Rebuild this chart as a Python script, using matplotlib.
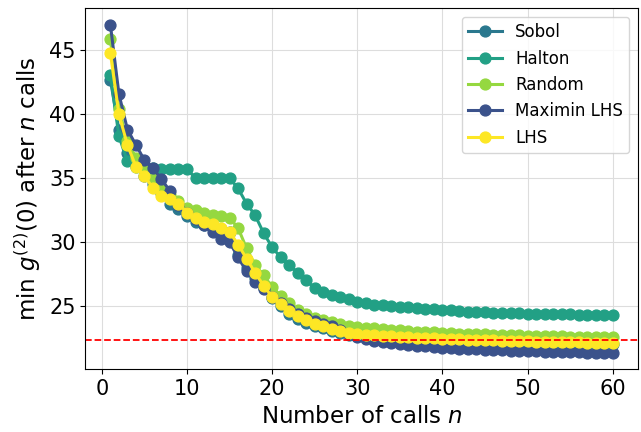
import matplotlib
matplotlib.use("Agg")
import matplotlib.pyplot as plt
import numpy as np

calls = np.arange(1, 61)

sobol = [42.7, 38.8, 37.0, 36.0, 35.2, 34.5, 33.8, 33.0, 32.6, 32.0,
         31.6, 31.3, 31.2, 31.0, 30.8, 29.0, 28.0, 27.2, 26.4, 25.6,
         25.0, 24.4, 24.0, 23.7, 23.45, 23.25, 23.05, 22.9, 22.75, 22.65,
         22.6, 22.55, 22.5, 22.47, 22.44, 22.41, 22.38, 22.35, 22.33, 22.31,
         22.3, 22.28, 22.26, 22.24, 22.22, 22.2, 22.18, 22.16, 22.14, 22.12,
         22.1, 22.09, 22.08, 22.07, 22.06, 22.05, 22.04, 22.03, 22.02, 22.0]

halton = [43.1, 38.3, 36.3, 35.9, 35.8, 35.8, 35.7, 35.7, 35.7, 35.7,
          35.0, 35.0, 35.0, 35.0, 35.0, 34.2, 33.0, 32.1, 30.7, 29.6,
          28.8, 28.2, 27.6, 27.0, 26.4, 26.1, 25.85, 25.7, 25.55, 25.35,
          25.2, 25.1, 25.05, 25.0, 24.95, 24.9, 24.85, 24.8, 24.75, 24.7,
          24.65, 24.6, 24.55, 24.5, 24.5, 24.48, 24.46, 24.44, 24.42, 24.4,
          24.4, 24.38, 24.36, 24.35, 24.34, 24.33, 24.32, 24.31, 24.3, 24.3]

random_ = [45.9, 40.4, 37.9, 36.6, 35.6, 34.9, 34.2, 33.7, 33.2, 32.7,
           32.5, 32.3, 32.15, 32.0, 31.9, 31.1, 29.5, 28.2, 27.4, 26.5,
           25.8, 25.2, 24.7, 24.35, 24.1, 23.9, 23.75, 23.6, 23.45, 23.35,
           23.3, 23.25, 23.2, 23.15, 23.1, 23.05, 23.0, 22.97, 22.94, 22.91,
           22.88, 22.85, 22.83, 22.81, 22.79, 22.77, 22.75, 22.73, 22.71, 22.69,
           22.67, 22.65, 22.63, 22.62, 22.61, 22.6, 22.59, 22.58, 22.56, 22.55]

maximin = [47.0, 41.6, 38.8, 37.6, 36.4, 35.8, 34.9, 34.0, 32.9, 32.3,
           31.8, 31.3, 30.8, 30.2, 30.0, 28.8, 27.7, 26.9, 26.3, 25.7,
           25.2, 24.75, 24.4, 24.1, 23.85, 23.6, 23.4, 23.1, 22.85, 22.6,
           22.45, 22.3, 22.2, 22.1, 22.0, 21.95, 21.9, 21.85, 21.8, 21.75,
           21.7, 21.65, 21.62, 21.6, 21.58, 21.56, 21.54, 21.52, 21.5, 21.48,
           21.46, 21.44, 21.42, 21.4, 21.39, 21.38, 21.36, 21.35, 21.34, 21.33]

lhs = [44.8, 40.0, 37.6, 35.9, 35.2, 34.2, 33.6, 33.4, 33.0, 32.3,
       31.9, 31.6, 31.4, 31.1, 30.8, 29.8, 28.7, 27.6, 26.6, 25.7,
       25.15, 24.6, 24.2, 23.9, 23.6, 23.4, 23.2, 23.05, 22.9, 22.8,
       22.75, 22.7, 22.66, 22.62, 22.58, 22.55, 22.52, 22.49, 22.46, 22.43,
       22.42, 22.4, 22.38, 22.36, 22.34, 22.32, 22.3, 22.28, 22.26, 22.24,
       22.22, 22.2, 22.19, 22.18, 22.16, 22.15, 22.14, 22.12, 22.11, 22.1]

target = 22.35

series = [("Sobol", sobol, "#2a788e"),
          ("Halton", halton, "#22a085"),
          ("Random", random_, "#95d840"),
          ("Maximin LHS", maximin, "#3b528b"),
          ("LHS", lhs, "#fde725")]

fig = plt.figure(figsize=(6.41, 4.32), dpi=100)
ax = fig.add_axes([0.133, 0.145, 0.862, 0.836])

for name, vals, col in series:
    ax.plot(calls, vals, "-o", color=col, label=name, lw=2.2, ms=7.8)

ax.axhline(target, color="red", ls="--", lw=1.3)

ax.grid(True, color="#dddddd", lw=0.8)
ax.set_axisbelow(True)
ax.set_xticks([0, 10, 20, 30, 40, 50, 60])
ax.set_yticks([25, 30, 35, 40, 45])
ax.tick_params(labelsize=15)
ax.set_xlabel("Number of calls $n$", fontsize=16.5)
ax.set_ylabel("min $g^{(2)}(0)$ after $n$ calls", fontsize=16.5)
ax.legend(loc="upper right", fontsize=12)

fig.savefig("out.png", dpi=100)
